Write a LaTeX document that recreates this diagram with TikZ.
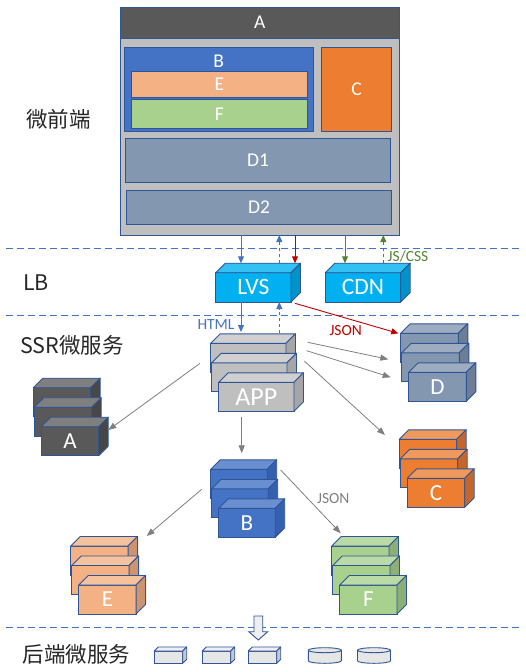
\documentclass[tikz,border=0pt]{standalone}
\usepackage{fontspec}
\setmainfont{Carlito}
\newfontfamily\cjk{Noto Sans CJK SC}
\usetikzlibrary{arrows.meta,calc}
\definecolor{bord}{HTML}{2F5597}
\definecolor{dashblue}{HTML}{4472C4}
\definecolor{framegray}{HTML}{BFBFBF}
\definecolor{fAc}{HTML}{595959}
\definecolor{fBc}{HTML}{4472C4}
\definecolor{fEc}{HTML}{F4B183}
\definecolor{fFc}{HTML}{A9D18E}
\definecolor{fCc}{HTML}{ED7D31}
\definecolor{fDc}{HTML}{8497B0}
\definecolor{cAf}{HTML}{595959}\definecolor{cAt}{HTML}{7F7F7F}\definecolor{cAs}{HTML}{474747}
\definecolor{cPf}{HTML}{BFBFBF}\definecolor{cPt}{HTML}{D0D0D0}\definecolor{cPs}{HTML}{A6A6A6}
\definecolor{cBf}{HTML}{4472C4}\definecolor{cBt}{HTML}{6A8FD0}\definecolor{cBs}{HTML}{3560B0}
\definecolor{cCf}{HTML}{ED7D31}\definecolor{cCt}{HTML}{F0995C}\definecolor{cCs}{HTML}{C5662A}
\definecolor{cDf}{HTML}{8497B0}\definecolor{cDt}{HTML}{9DACC0}\definecolor{cDs}{HTML}{6C7D94}
\definecolor{cEf}{HTML}{F4B183}\definecolor{cEt}{HTML}{F6C29D}\definecolor{cEs}{HTML}{CC9570}
\definecolor{cFf}{HTML}{A9D18E}\definecolor{cFt}{HTML}{BADBA6}\definecolor{cFs}{HTML}{8DAE77}
\definecolor{cLf}{HTML}{00B0F0}\definecolor{cLt}{HTML}{33C1F3}\definecolor{cLs}{HTML}{0093C9}
\definecolor{cSf}{HTML}{E7E6E6}\definecolor{cSt}{HTML}{EFEFEF}\definecolor{cSs}{HTML}{C8C8C8}
\definecolor{ared}{HTML}{C00000}
\definecolor{agreen}{HTML}{548235}
\definecolor{agray}{HTML}{7F7F7F}
\definecolor{ablue}{HTML}{4472C4}
\newcommand\mycube[8]{%
  \node[cubeface, fill=#6f, minimum width=#4pt, minimum height=#5pt] (#1) at (#2,#3) {#7};
  \filldraw[cubeedge, fill=#6t] (#1.north west) -- ++(#8,-#8) -- ++(#4,0) -- (#1.north east) -- cycle;
  \filldraw[cubeedge, fill=#6s] (#1.north east) -- ++(#8,-#8) -- ++(0,#5) -- (#1.south east) -- cycle;}
\newcommand\mystack[6]{%
  \mycube{#11}{#2}{#3}{#4}{29}{#5}{}{9.5}
  \mycube{#12}{#2+1}{#3+19.5}{#4}{29}{#5}{}{9.5}
  \mycube{#1}{#2+8}{#3+39}{#4}{29}{#5}{#6}{9.5}}
\begin{document}
\begin{tikzpicture}[x=1pt,y=-1pt,
  box/.style={draw=bord, line width=0.9pt, inner sep=0pt, outer sep=0pt, anchor=north west, text=white, font=\fontsize{19.5}{19.5}\selectfont},
  cubeface/.style={draw=bord, line width=0.9pt, inner sep=0pt, outer sep=0pt, anchor=north west, text=white, font=\fontsize{23}{23}\selectfont},
  cubeedge/.style={draw=bord, line width=0.9pt, line join=round},
  sep/.style={draw=dashblue, line width=1.1pt, dash pattern=on 7pt off 4pt},
  side/.style={font=\cjk\fontsize{21.5}{21.5}\selectfont, text=black!85, inner sep=0pt},
  small/.style={font=\fontsize{15.5}{15.5}\selectfont, inner sep=0pt},
  arr/.style={line width=0.9pt, -{Triangle[length=7pt,width=6pt]}},
  garr/.style={draw=agray, line width=0.8pt, -{Triangle[length=8pt,width=6pt]}}]
\useasboundingbox (0,0) rectangle (526,672);
% separators
\coordinate (s1a) at (6,248.3); \coordinate (s1b) at (522,248.3);
\coordinate (s2a) at (6,315.5); \coordinate (s2b) at (522,315.5);
\coordinate (s3a) at (6,627.3); \coordinate (s3b) at (522,627.3);
\draw[sep] (s1a) -- (s1b);
\draw[sep] (s2a) -- (s2b);
\draw[sep] (s3a) -- (s3b);
% side labels
\node[side] (lfe) at (58.5,119) {微前端};
\node[side] (llb) at (36,283) {LB};
\node[side] (lssr) at (72,345) {SSR微服务};
\node[side] (lbe) at (76.7,654) {后端微服务};
% frontend frame
\node[box, fill=framegray, minimum width=279.3pt, minimum height=228pt] (frame) at (120,7) {};
\node[box, fill=fAc, minimum width=279.3pt, minimum height=31pt] (fA) at (120,7) {A};
\node[box, fill=fBc, minimum width=189pt, minimum height=84pt] (fB) at (124.3,47.3) {};
\node[text=white, font=\fontsize{19.5}{19.5}\selectfont, inner sep=0pt] (fBl) at (218.8,61.5) {B};
\node[box, fill=fEc, minimum width=176pt, minimum height=25.7pt] (fE) at (131.3,71.3) {E};
\node[box, fill=fFc, minimum width=176pt, minimum height=29pt] (fF) at (131.3,99.3) {F};
\node[box, fill=fCc, minimum width=70.4pt, minimum height=84pt] (fC) at (321.3,47.3) {C};
\node[box, fill=fDc, minimum width=265.4pt, minimum height=44pt] (fD1) at (125.3,138.3) {D1};
\node[box, fill=fDc, minimum width=265.4pt, minimum height=34pt] (fD2) at (126.3,190.3) {D2};
% LB
\mycube{LVS}{215.7}{272.7}{75.3}{29.3}{cL}{\fontsize{23.5}{23.5}\selectfont LVS}{9.5}
\mycube{CDN}{325.3}{272.7}{75.4}{29.3}{cL}{\fontsize{23.5}{23.5}\selectfont CDN}{9.5}
% stacks
\mystack{SA}{33.3}{387.7}{57.4}{cA}{A}
\mystack{APP}{210.7}{343.3}{75.3}{cP}{\fontsize{26}{26}\selectfont APP}
\mystack{SD}{400.7}{333.3}{57.6}{cD}{D}
\mystack{SB}{210.7}{469.3}{56.5}{cB}{B}
\mystack{SC}{399.3}{439.3}{57.4}{cC}{C}
\mystack{SE}{70.7}{546}{57.4}{cE}{E}
\mystack{SF}{331.7}{546}{57.3}{cF}{F}
% LB arrows
\coordinate (t1) at (241,263.3);
\coordinate (t2) at (279.3,263.3);
\coordinate (t3) at (295,263.3);
\coordinate (t4) at (345,263.3);
\coordinate (t5) at (383.3,263.3);
\draw[arr, ablue] (frame.south -| t1) -- (t1);
\draw[arr, ablue, dashed] (t2) -- (frame.south -| t2);
\draw[arr, ared] (frame.south -| t3) -- (t3);
\draw[arr, agreen] (frame.south -| t4) -- (t4);
\draw[arr, agreen, dashed] (t5) -- (frame.south -| t5);
\node[small, text=agreen] (jscss) at (408,256.5) {JS/CSS};
\coordinate (b1) at (241,332);
\coordinate (b2) at (279.3,333);
\draw[arr, ablue] (LVS.south -| b1) -- (b1);
\draw[arr, ablue, dashed] (b2) -- (LVS.south -| b2);
\node[small, text=ablue] (html) at (216,325) {HTML};
\coordinate (r1) at (295,303.3);
\coordinate (r2) at (398.3,333.3);
\draw[arr, ared] (r1) -- (r2);
\node[small, text=ared] (json1) at (345.7,330.7) {JSON};
% gray arrows
\coordinate (g1a) at (200,363.3); \coordinate (g1b) at (108.3,430);
\coordinate (g2a) at (241.7,417.3); \coordinate (g2b) at (241.7,453.3);
\coordinate (g3a) at (307.7,342.3); \coordinate (g3b) at (388.3,359.3);
\coordinate (g4a) at (306.7,350.7); \coordinate (g4b) at (390.7,377.3);
\coordinate (g5a) at (304.3,361); \coordinate (g5b) at (385,435);
\coordinate (g6a) at (201.7,489.3); \coordinate (g6b) at (146.7,536);
\coordinate (g7a) at (280.7,470); \coordinate (g7b) at (340.7,533.3);
\draw[garr] (g1a) -- (g1b);
\draw[garr] (g2a) -- (g2b);
\draw[garr] (g3a) -- (g3b);
\draw[garr] (g4a) -- (g4b);
\draw[garr] (g5a) -- (g5b);
\draw[garr] (g6a) -- (g6b);
\draw[garr] (g7a) -- (g7b);
\node[small, text=agray] (json2) at (333.3,498.3) {JSON};
% bottom block arrow
\filldraw[fill=cSt, draw=bord, line width=0.9pt, line join=miter]
  (254,616) -- (262.7,616) -- (262.7,631.7) -- (267.7,631.7) -- (258.3,640) -- (248.8,631.7) -- (254,631.7) -- cycle;
% backend services
\mycube{bs1}{154.3}{651}{28.4}{12.3}{cS}{}{4}
\mycube{bs2}{202.3}{651}{28.4}{12.3}{cS}{}{4}
\mycube{bs3}{248.3}{651}{28.4}{12.3}{cS}{}{4}
\foreach \cx in {324.8,374} {
  \filldraw[fill=cSf, draw=bord, line width=0.9pt]
    (\cx-16.5,650.2) -- (\cx-16.5,660.8) arc[start angle=180,end angle=360,x radius=16.5pt,y radius=2.5pt]
    -- (\cx+16.5,650.2) arc[start angle=0,end angle=180,x radius=16.5pt,y radius=2.5pt] -- cycle;
  \draw[draw=bord, line width=0.9pt] (\cx-16.5,650.2) arc[start angle=180,end angle=360,x radius=16.5pt,y radius=2.5pt];
}
\end{tikzpicture}
\end{document}
